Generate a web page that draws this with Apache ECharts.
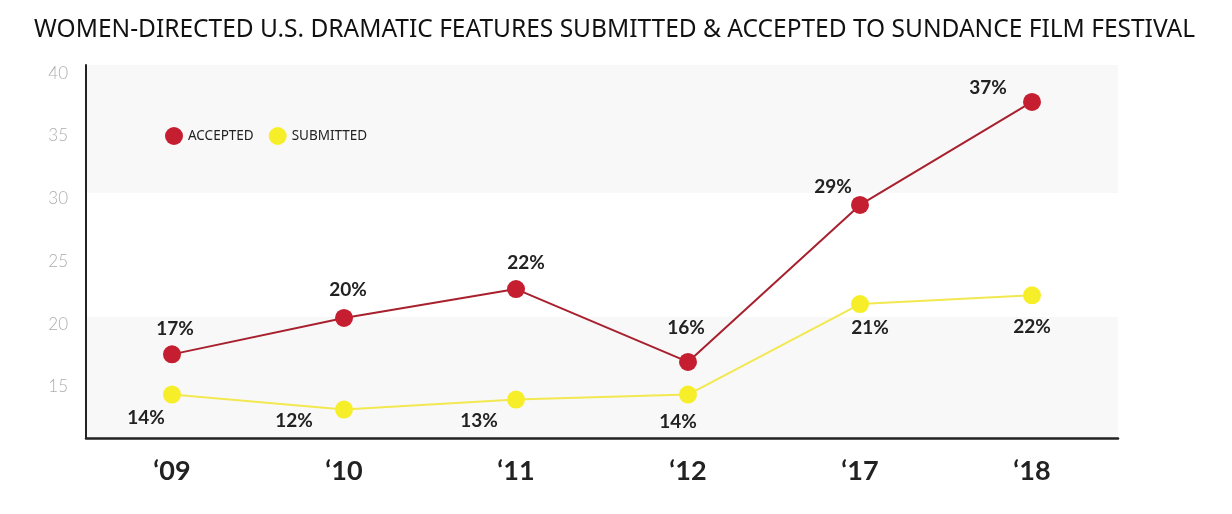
<!DOCTYPE html>
<html>
<head>
<meta charset="utf-8">
<script src="https://cdn.jsdelivr.net/npm/echarts@6/dist/echarts.min.js"></script>
<style>
	html, body { margin: 0; padding: 0; background: #fff; }
	#chart { width: 1232px; height: 514px; }
</style>
</head>
<body>
<div id="chart"></div>
<script>
// 年份
var years = ['\u201809', '\u201810', '\u201811', '\u201812', '\u201817', '\u201818'];
// 入选 / 报名（按图中点位读出）
var accepted = [17.6, 20.5, 22.8, 17.0, 29.5, 37.7];
var submitted = [14.4, 13.2, 14.0, 14.4, 21.6, 22.3];
// 数据标签文字
var acceptedLabels = ['17%', '20%', '22%', '16%', '29%', '37%'];
var submittedLabels = ['14%', '12%', '13%', '14%', '21%', '22%'];
// y轴刻度
var yTicks = [15, 20, 25, 30, 35, 40];
var yMin = 10.94;
var yMax = 40.64;
// 背景色带
var bands = [[30.45, yMax], [yMin, 20.57]];

// 标签偏移
var acceptedOffsets = [[3, -25], [4, -28], [10, -26], [-2, -34], [-27, -18], [-44, -14]];
var submittedOffsets = [[-26, 23], [-50, 11], [-37, 21], [-10, 27], [10, 24], [0, 32]];

function buildData(values, labels, offsets) {
	return values.map(function(v, i) {
		return {
			value: v,
			label: {
				formatter: labels[i],
				offset: offsets[i]
			}
		};
	});
}

var labelStyle = {
	show: true,
	position: 'inside',
	fontFamily: 'Lato',
	fontWeight: 'bold',
	fontSize: 19,
	color: '#222'
};

var myChart = echarts.init(document.getElementById('chart'));
var option = {
	animation: false,
	title: {
		text: 'WOMEN-DIRECTED U.S. DRAMATIC FEATURES SUBMITTED & ACCEPTED TO SUNDANCE FILM FESTIVAL',
		left: 29,
		top: 13,
		textStyle: {
			fontFamily: 'Noto Sans',
			fontWeight: 'normal',
			fontSize: 24.5,
			color: '#111'
		}
	},
	legend: {
		left: 160,
		top: 122,
		icon: 'circle',
		itemWidth: 18,
		itemHeight: 18,
		itemGap: 15,
		textStyle: {
			fontFamily: 'Noto Sans',
			fontSize: 13.5,
			color: '#222'
		},
		data: ['ACCEPTED', 'SUBMITTED']
	},
	grid: {
		left: 86,
		right: 114,
		top: 65,
		bottom: 76
	},
	xAxis: {
		type: 'category',
		z: 10,
		data: years,
		boundaryGap: true,
		axisLine: { lineStyle: { color: '#222', width: 2.5 } },
		axisTick: { show: false },
		axisLabel: {
			margin: 20,
			fontFamily: 'Lato',
			fontWeight: 'bold',
			fontSize: 27,
			color: '#222'
		},
		splitLine: { show: false }
	},
	yAxis: {
		type: 'value',
		z: 10,
		min: yMin,
		max: yMax,
		axisLine: { show: true, lineStyle: { color: '#222', width: 2 } },
		axisTick: { show: false },
		splitLine: { show: false },
		axisLabel: {
			customValues: yTicks,
			margin: 18,
			fontFamily: 'Lato',
			fontWeight: 300,
			fontSize: 17,
			color: '#adadad'
		}
	},
	series: [{
		name: 'ACCEPTED',
		type: 'line',
		z: 3,
		symbol: 'circle',
		symbolSize: 18,
		itemStyle: { color: '#c41e30' },
		lineStyle: { color: '#a8202e', width: 2 },
		label: labelStyle,
		data: buildData(accepted, acceptedLabels, acceptedOffsets),
		markArea: {
			silent: true,
			itemStyle: { color: '#f8f8f8' },
			data: bands.map(function(b) {
				return [{ yAxis: b[0] }, { yAxis: b[1] }];
			})
		}
	}, {
		name: 'SUBMITTED',
		type: 'line',
		z: 2,
		symbol: 'circle',
		symbolSize: 18,
		itemStyle: { color: '#f7ee2a' },
		lineStyle: { color: '#f2e850', width: 2 },
		label: labelStyle,
		data: buildData(submitted, submittedLabels, submittedOffsets)
	}]
};
myChart.setOption(option);
window.addEventListener('resize', function() {
	myChart.resize();
});
</script>
</body>
</html>
